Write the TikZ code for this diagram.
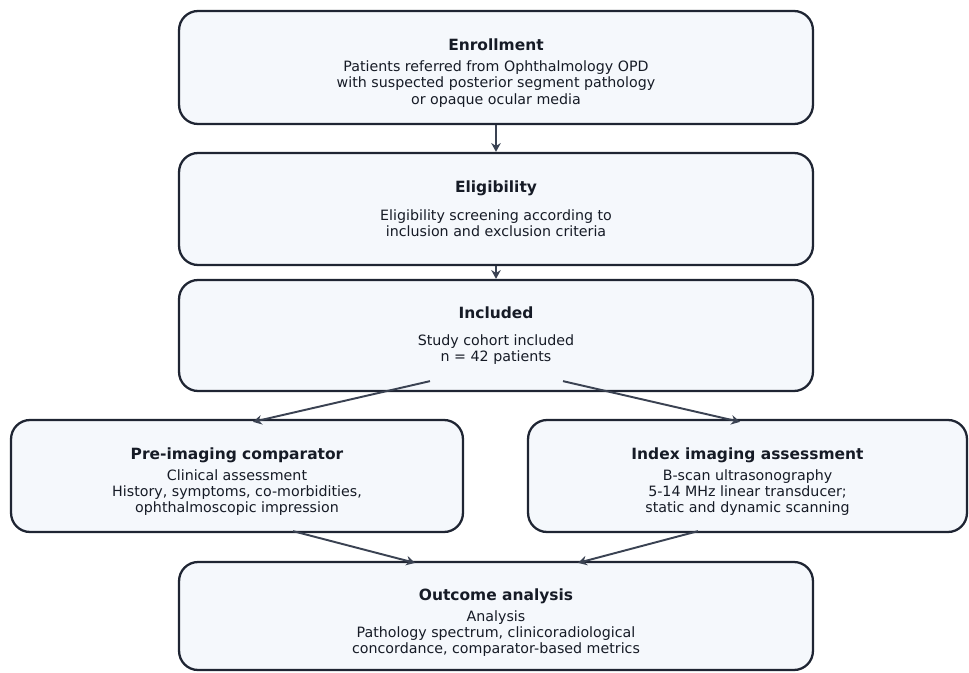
\documentclass[tikz,border=0pt]{standalone}
\usepackage{fontspec}
\setmainfont{DejaVu Sans}
\usetikzlibrary{arrows.meta}
\definecolor{boxfill}{HTML}{F5F8FC}
\definecolor{boxline}{HTML}{1F2533}
\definecolor{arrowcol}{HTML}{3A4252}
\definecolor{textcol}{HTML}{161B26}
\newcommand{\stagehead}[1]{{\bfseries\fontsize{8.8}{10}\selectfont #1}}
\begin{document}
\begin{tikzpicture}[x=0.02cm,y=-0.02cm,
    stage/.style={draw=boxline,fill=boxfill,line width=1.3pt,rectangle,rounded corners=0.38cm,
        align=center,text=textcol,font=\fontsize{8.1}{9.25}\selectfont,inner sep=0pt},
    flow/.style={draw=arrowcol,line width=1.1pt,-{Stealth[length=5pt,width=5.4pt]}}]
        \useasboundingbox (0,0) rectangle (969,672);
        %% Stages
        \node[stage,minimum width=12.68cm,minimum height=2.26cm] (enroll) at (496,67.5)
            {\rule{0pt}{13pt}\stagehead{Enrollment}\\[2.7pt]
             Patients referred from Ophthalmology OPD\\with suspected posterior segment pathology\\or opaque ocular media};
        \node[stage,minimum width=12.68cm,minimum height=2.24cm] (elig) at (496,209)
            {\stagehead{Eligibility}\\[6.4pt]
             Eligibility screening according to\\inclusion and exclusion criteria};
        \node[stage,minimum width=12.68cm,minimum height=2.22cm] (incl) at (496,335.5)
            {\stagehead{Included}\\[6.4pt]
             Study cohort included\\n = 42 patients};
        \node[stage,minimum width=9.04cm,minimum height=2.24cm] (pre) at (237,476)
            {\rule{0pt}{13pt}\stagehead{Pre-imaging comparator}\\[2.7pt]
             Clinical assessment\\History, symptoms, co-morbidities,\\ophthalmoscopic impression};
        \node[stage,minimum width=8.78cm,minimum height=2.24cm] (index) at (747.5,476)
            {\rule{0pt}{13pt}\stagehead{Index imaging assessment}\\[2.7pt]
             B-scan ultrasonography\\5-14 MHz linear transducer;\\static and dynamic scanning};
        \node[stage,minimum width=12.68cm,minimum height=2.16cm] (outcome) at (496,616)
            {\rule{0pt}{14pt}\stagehead{Outcome analysis}\\[2.7pt]
             Analysis\\Pathology spectrum, clinicoradiological\\concordance, comparator-based metrics};
        %% Flow
        \draw[flow] (enroll.south) -- (elig.north);
        \draw[flow] (elig.south) -- (incl.north);
        \draw[flow] ([xshift=-1.32cm,yshift=0.22cm]incl.south) -- ([xshift=0.32cm,yshift=-0.06cm]pre.north);
        \draw[flow] ([xshift=1.34cm,yshift=0.22cm]incl.south) -- ([xshift=-0.15cm,yshift=-0.06cm]index.north);
        \draw[flow] ([xshift=1.12cm,yshift=0.04cm]pre.south) -- ([xshift=-1.62cm,yshift=-0.04cm]outcome.north);
        \draw[flow] ([xshift=-0.99cm,yshift=0.04cm]index.south) -- ([xshift=1.64cm,yshift=-0.04cm]outcome.north);
    \end{tikzpicture}
\end{document}
